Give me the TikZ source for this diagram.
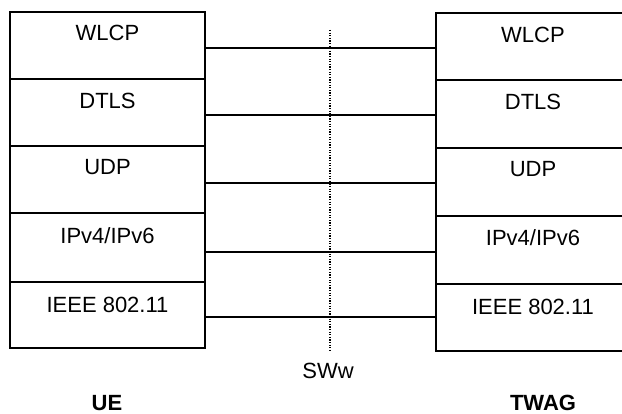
\documentclass[tikz,border=0pt]{standalone}
\usepackage{fontspec}
\setmainfont{Liberation Sans}
\begin{document}
\begin{tikzpicture}[x=1pt,y=-1pt,
  cell/.style={draw, line width=2pt, inner sep=0pt, minimum width=#1},
  lbl/.style={anchor=base, inner sep=0pt, font=\fontsize{22}{26}\selectfont},
  bold/.style={anchor=base, inner sep=0pt, font=\fontsize{22}{26}\selectfont\bfseries},
  link/.style={line width=1.8pt},
  boundary/.style={line width=1.3pt, dash pattern=on 1.3pt off 1.3pt}]
\useasboundingbox (0,0) rectangle (622,414);
\clip (0,0) rectangle (622,414);
% left stack (UE)
\node[cell=195pt, minimum height=67pt] (l1) at (107.5,45.5) {};
\node[cell=195pt, minimum height=67pt] (l2) at (107.5,112.5) {};
\node[cell=195pt, minimum height=67pt] (l3) at (107.5,179.5) {};
\node[cell=195pt, minimum height=69pt] (l4) at (107.5,247.5) {};
\node[cell=195pt, minimum height=66pt] (l5) at (107.5,315) {};
% right stack (TWAG)
\node[cell=194pt, minimum height=67pt] (r1) at (533,46.5) {};
\node[cell=194pt, minimum height=68pt] (r2) at (533,114) {};
\node[cell=194pt, minimum height=68pt] (r3) at (533,182) {};
\node[cell=194pt, minimum height=68pt] (r4) at (533,250) {};
\node[cell=194pt, minimum height=67pt] (r5) at (533,317.5) {};
% labels
\path (l1.north) ++(0,29.5) node[lbl] (tl1) {WLCP};
\path (l2.north) ++(0,31) node[lbl] (tl2) {DTLS};
\path (l3.north) ++(0,30) node[lbl] (tl3) {UDP};
\path (l4.north) ++(0,31.5) node[lbl] (tl4) {IPv4/IPv6};
\path (l5.north) ++(0,32) node[lbl] (tl5) {IEEE 802.11};
\path (r1.north) ++(0,31) node[lbl] (tr1) {WLCP};
\path (r2.north) ++(0,31) node[lbl] (tr2) {DTLS};
\path (r3.north) ++(0,30) node[lbl] (tr3) {UDP};
\path (r4.north) ++(0,30.5) node[lbl] (tr4) {IPv4/IPv6};
\path (r5.north) ++(0,32) node[lbl] (tr5) {IEEE 802.11};
% peer links
\path (l1.east) ++(0,2.5) coordinate (a1);
\path (l2.east) ++(0,2.5) coordinate (a2);
\path (l3.east) ++(0,3.5) coordinate (a3);
\path (l4.east) ++(0,4.5) coordinate (a4);
\path (l5.east) ++(0,2) coordinate (a5);
\draw[link] (a1) -- (a1 -| r1.west);
\draw[link] (a2) -- (a2 -| r2.west);
\draw[link] (a3) -- (a3 -| r3.west);
\draw[link] (a4) -- (a4 -| r4.west);
\draw[link] (a5) -- (a5 -| r5.west);
% reference point
\coordinate (sTop) at (330,30);
\coordinate (sBot) at (330,350);
\draw[boundary] (sTop) -- (sBot);
\node[lbl] (sww) at (328,379) {SWw};
\node[bold] (ue) at (107,410.5) {UE};
\node[bold] (twag) at (543,410.5) {TWAG};
\end{tikzpicture}
\end{document}
